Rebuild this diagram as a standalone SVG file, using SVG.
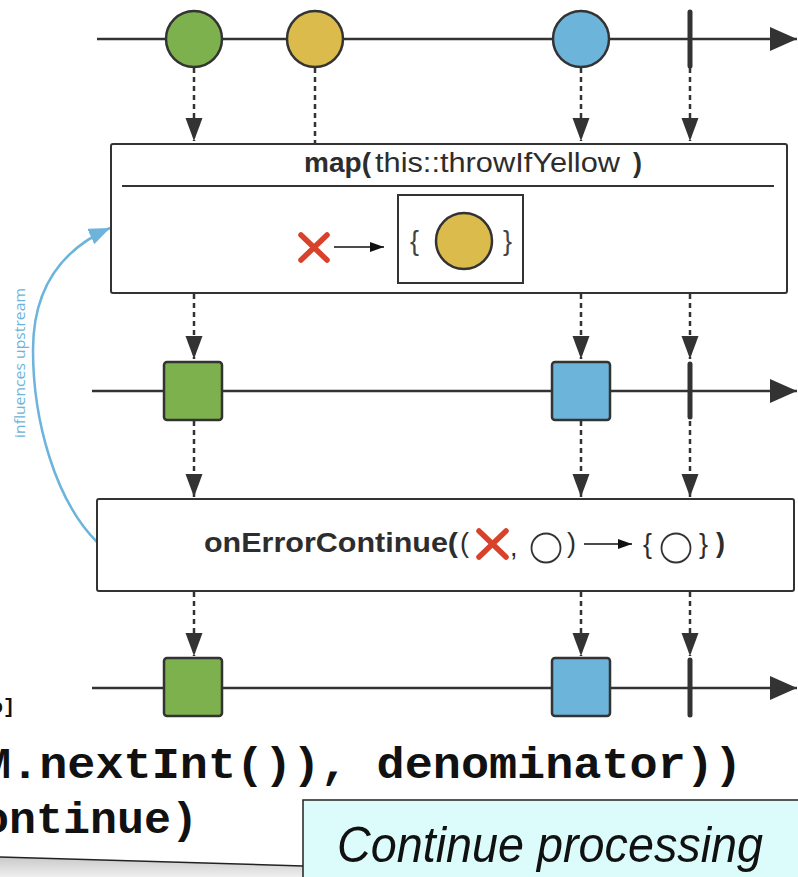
<svg xmlns="http://www.w3.org/2000/svg" width="798" height="877" viewBox="0 0 798 877">
<style>
.tl{stroke:#333;stroke-width:2.5;fill:none}
.dash{stroke:#333;stroke-width:2.5;stroke-dasharray:5 4;fill:none}
.box{fill:#fff;stroke:#333;stroke-width:2}
.sq{stroke:#333;stroke-width:2.5}
.bar{stroke:#333;stroke-width:5;stroke-linecap:round}
.circ{stroke:#333;stroke-width:2.5}
.x{stroke:#d9412b;stroke-width:5.5;stroke-linecap:round}
.lbl{font-family:"Liberation Sans",Arial,sans-serif;font-size:27px;fill:#2d2d2d}
.b{font-weight:bold}
.code{font-family:"Liberation Mono","Courier New",monospace;font-weight:bold;font-size:44px;fill:#111}
</style>
<defs>
<marker id="ah" markerUnits="userSpaceOnUse" markerWidth="24" markerHeight="18" refX="23" refY="8.5" orient="auto"><path d="M0,0 L23,8.5 L0,17 Z" fill="#333"/></marker>
<marker id="big" markerUnits="userSpaceOnUse" markerWidth="28" markerHeight="26" refX="27" refY="12" orient="auto"><path d="M0,0 L27,12 L0,24 Z" fill="#333"/></marker>
<marker id="sm" markerUnits="userSpaceOnUse" markerWidth="15" markerHeight="11" refX="14" refY="5" orient="auto"><path d="M0,0 L14,5 L0,10 Z" fill="#111"/></marker>
<marker id="blue" markerUnits="userSpaceOnUse" markerWidth="22" markerHeight="18" refX="21" refY="8.5" orient="auto"><path d="M0,0 L21,8.5 L0,17 Z" fill="#6cb4dc"/></marker>
<linearGradient id="shadow" x1="0" y1="0" x2="0" y2="1"><stop offset="0" stop-color="#c9c9c9"/><stop offset="1" stop-color="#efefef"/></linearGradient>
</defs>

<rect width="798" height="877" fill="#fff"/>

<g id="background-code">
<text class="code" x="-9" y="713" style="font-size:20px">o]</text>
<text class="code" x="-17" y="778" textLength="759" lengthAdjust="spacingAndGlyphs">M.nextInt()), denominator))</text>
<text class="code" x="-18" y="833" textLength="216" lengthAdjust="spacingAndGlyphs">ontinue)</text>
<polygon points="0,857 303,866 303,877 0,877" fill="url(#shadow)"/>
<line x1="0" y1="857" x2="303" y2="866" stroke="#222" stroke-width="1.5"/>
</g>

<g id="connectors">
<line class="dash" x1="194" y1="68" x2="194" y2="141" marker-end="url(#ah)"/>
<line class="dash" x1="315" y1="68" x2="315" y2="143"/>
<line class="dash" x1="581" y1="68" x2="581" y2="141" marker-end="url(#ah)"/>
<line class="dash" x1="690" y1="68" x2="690" y2="141" marker-end="url(#ah)"/>
<line class="dash" x1="315" y1="187" x2="315" y2="235" marker-end="url(#ah)"/>
<line class="dash" x1="194" y1="294" x2="194" y2="359" marker-end="url(#ah)"/>
<line class="dash" x1="581" y1="294" x2="581" y2="359" marker-end="url(#ah)"/>
<line class="dash" x1="690" y1="294" x2="690" y2="359" marker-end="url(#ah)"/>
<line class="dash" x1="194" y1="421" x2="194" y2="497" marker-end="url(#ah)"/>
<line class="dash" x1="581" y1="421" x2="581" y2="497" marker-end="url(#ah)"/>
<line class="dash" x1="690" y1="421" x2="690" y2="497" marker-end="url(#ah)"/>
<line class="dash" x1="194" y1="592" x2="194" y2="656" marker-end="url(#ah)"/>
<line class="dash" x1="581" y1="592" x2="581" y2="656" marker-end="url(#ah)"/>
<line class="dash" x1="690" y1="592" x2="690" y2="656" marker-end="url(#ah)"/>
<path d="M97,542 C55,500 33,420 33,350 C33,290 60,250 110,228" fill="none" stroke="#6cb4dc" stroke-width="2.5" marker-end="url(#blue)"/>
<text transform="translate(25,363) rotate(-90)" text-anchor="middle" font-family="'Open Sans','Liberation Sans',sans-serif" font-size="15" fill="#6cb4dc" textLength="150" lengthAdjust="spacingAndGlyphs">influences upstream</text>
</g>

<g id="timeline-source">
<line class="tl" x1="97" y1="39" x2="797" y2="39" marker-end="url(#big)"/>
<circle class="circ" cx="194" cy="39" r="28" fill="#7db14d"/>
<circle class="circ" cx="315" cy="39" r="28" fill="#dbbb4c"/>
<circle class="circ" cx="581" cy="39" r="28" fill="#6cb4da"/>
<line class="bar" x1="690" y1="12" x2="690" y2="66"/>
</g>

<g id="map-operator">
<rect class="box" x="111" y="144" width="676" height="149" rx="2"/>
<line x1="122" y1="186" x2="774" y2="186" stroke="#333" stroke-width="2"/>
<text class="lbl b" x="304" y="172" textLength="67" lengthAdjust="spacingAndGlyphs">map(</text>
<text class="lbl" x="375" y="172" textLength="245" lengthAdjust="spacingAndGlyphs">this::throwIfYellow</text>
<text class="lbl b" x="633" y="172">)</text>
<line class="x" x1="301" y1="235" x2="327" y2="260"/>
<line class="x" x1="327" y1="235" x2="301" y2="260"/>
<line x1="334" y1="247" x2="384" y2="247" stroke="#111" stroke-width="1.6" marker-end="url(#sm)"/>
<rect x="398" y="195" width="125" height="88" fill="#fff" stroke="#333" stroke-width="2"/>
<text class="lbl" x="410" y="250" style="font-size:27px;fill:#444">{</text>
<circle class="circ" cx="464" cy="241" r="28" fill="#dbbb4c"/>
<text class="lbl" x="503" y="250" style="font-size:27px;fill:#444">}</text>
</g>

<g id="timeline-mapped">
<line class="tl" x1="92" y1="391" x2="797" y2="391" marker-end="url(#big)"/>
<rect class="sq" x="164" y="362" width="58" height="58" rx="3" fill="#7db14d"/>
<rect class="sq" x="552" y="362" width="58" height="58" rx="3" fill="#6cb4da"/>
<line class="bar" x1="690" y1="364" x2="690" y2="417"/>
</g>

<g id="onErrorContinue-operator">
<rect class="box" x="97" y="499" width="697" height="92" rx="2"/>
<text class="lbl b" x="204" y="552" textLength="254" lengthAdjust="spacingAndGlyphs">onErrorContinue(</text>
<text class="lbl" x="460" y="552">(</text>
<line class="x" x1="479" y1="531" x2="506" y2="557"/>
<line class="x" x1="506" y1="531" x2="479" y2="557"/>
<text class="lbl" x="510" y="556">,</text>
<circle cx="546" cy="548" r="14.5" fill="none" stroke="#333" stroke-width="1.8"/>
<text class="lbl" x="567" y="552">)</text>
<line x1="584" y1="544" x2="632" y2="544" stroke="#111" stroke-width="1.6" marker-end="url(#sm)"/>
<text class="lbl" x="643" y="553">{</text>
<circle cx="676" cy="548" r="14.5" fill="none" stroke="#333" stroke-width="1.8"/>
<text class="lbl" x="699" y="553">}</text>
<text class="lbl b" x="716" y="552">)</text>
</g>

<g id="timeline-result">
<line class="tl" x1="92" y1="688" x2="797" y2="688" marker-end="url(#big)"/>
<rect class="sq" x="164" y="658" width="58" height="58" rx="3" fill="#7db14d"/>
<rect class="sq" x="552" y="658" width="58" height="58" rx="3" fill="#6cb4da"/>
<line class="bar" x1="690" y1="660" x2="690" y2="715"/>
</g>

<g id="callout">
<rect x="303" y="800" width="500" height="90" fill="#dcfcfc" stroke="#222" stroke-width="1.5"/>
<text x="337" y="862" font-family="'Liberation Sans',Arial,sans-serif" font-style="italic" font-size="50" fill="#111" textLength="426" lengthAdjust="spacingAndGlyphs">Continue processing</text>
</g>
</svg>
